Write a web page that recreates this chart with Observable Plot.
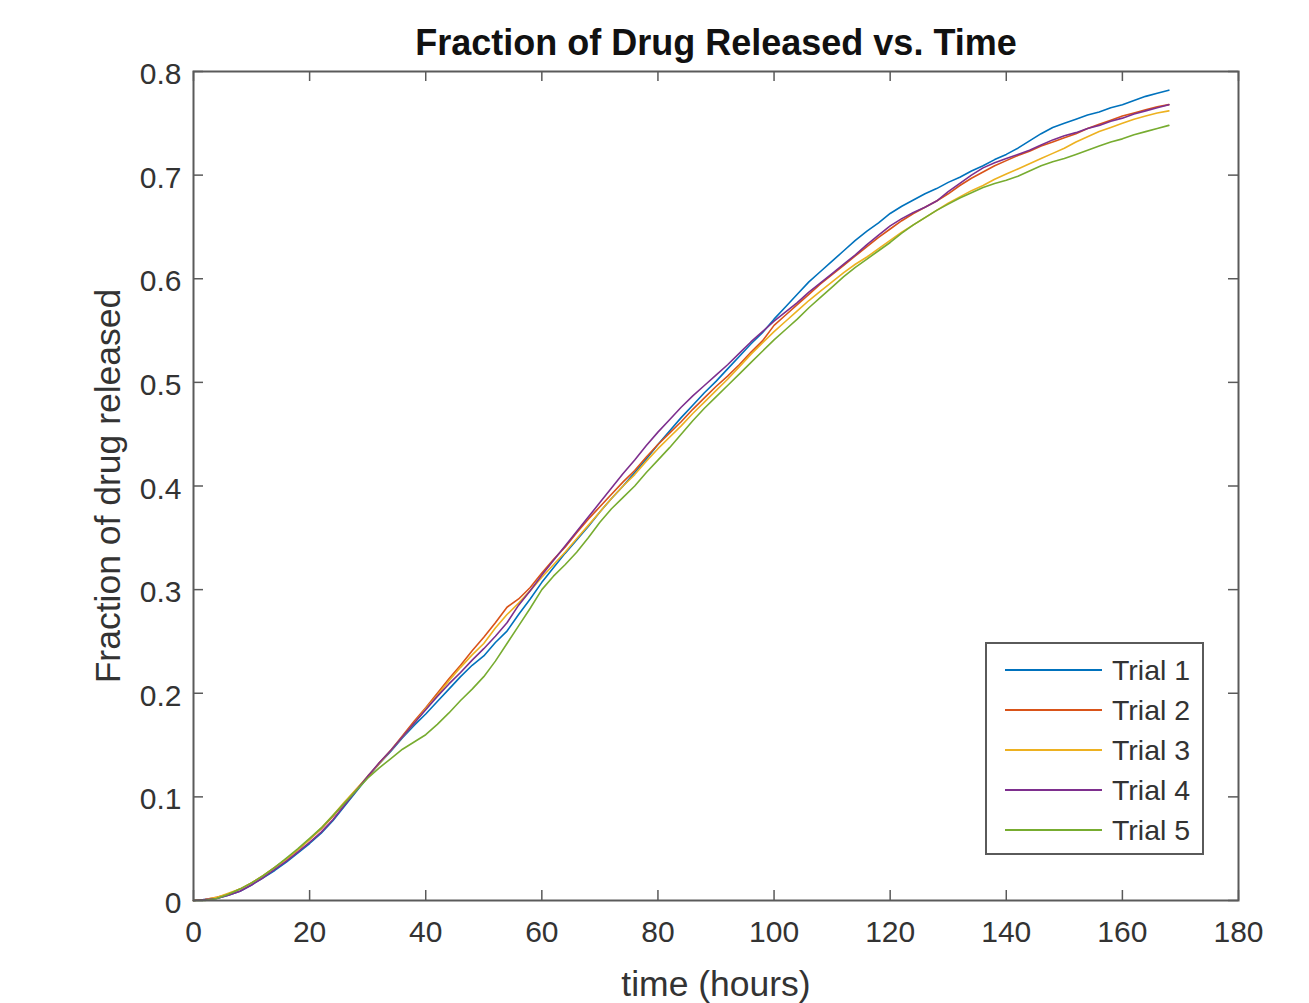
<!DOCTYPE html>
<html>
<head>
<meta charset="utf-8">
<script src="https://cdn.jsdelivr.net/npm/d3@7"></script>
<script src="https://cdn.jsdelivr.net/npm/@observablehq/plot@0.6"></script>
<style>
  html, body { margin: 0; padding: 0; background: #fff; }
  #wrap { position: relative; width: 1309px; height: 1003px; }
  #legend { position: absolute; left: 985px; top: 642px; }
</style>
</head>
<body>
<div id="wrap"><div id="chart"></div><div id="legend"></div></div>
<script>
const trials = ["Trial 1", "Trial 2", "Trial 3", "Trial 4", "Trial 5"];
const colors = ["#0072BD", "#D95319", "#EDB120", "#7E2F8E", "#77AC30"];
const xTicks = [0, 20, 40, 60, 80, 100, 120, 140, 160, 180];
const yTicks = [0, 0.1, 0.2, 0.3, 0.4, 0.5, 0.6, 0.7, 0.8];
const titleText = "Fraction of Drug Released vs. Time";
const xLabel = "time (hours)";
const yLabel = "Fraction of drug released";

const hours = [0,2,4,6,8,10,12,14,16,18,20,22,24,26,28,30,32,34,36,38,40,42,44,46,48,50,52,54,56,58,60,62,64,66,68,70,72,74,76,78,80,82,84,86,88,90,92,94,96,98,100,102,104,106,108,110,112,114,116,118,120,122,124,126,128,130,132,134,136,138,140,142,144,146,148,150,152,154,156,158,160,162,164,166,168];

const trial1 = [0.000,0.001,0.002,0.005,0.009,0.015,0.022,0.029,0.037,0.046,0.055,0.065,0.077,0.091,0.105,0.119,0.132,0.144,0.157,0.169,0.180,0.192,0.204,0.216,0.227,0.236,0.249,0.260,0.276,0.291,0.307,0.321,0.335,0.348,0.361,0.375,0.388,0.400,0.413,0.426,0.440,0.453,0.466,0.478,0.490,0.501,0.513,0.525,0.537,0.548,0.561,0.573,0.585,0.597,0.607,0.617,0.627,0.637,0.646,0.654,0.663,0.670,0.676,0.682,0.687,0.693,0.698,0.704,0.709,0.715,0.720,0.726,0.733,0.740,0.746,0.750,0.754,0.758,0.761,0.765,0.768,0.772,0.776,0.779,0.782];
const trial2 = [0.000,0.001,0.003,0.006,0.011,0.017,0.024,0.032,0.040,0.049,0.059,0.069,0.081,0.094,0.107,0.119,0.133,0.145,0.159,0.173,0.186,0.200,0.214,0.227,0.241,0.254,0.268,0.283,0.291,0.302,0.316,0.329,0.341,0.355,0.368,0.380,0.392,0.404,0.415,0.428,0.440,0.451,0.462,0.474,0.485,0.496,0.506,0.517,0.529,0.540,0.555,0.565,0.575,0.585,0.595,0.604,0.613,0.622,0.631,0.640,0.648,0.656,0.663,0.669,0.675,0.682,0.690,0.697,0.703,0.709,0.714,0.719,0.723,0.728,0.732,0.736,0.740,0.745,0.749,0.753,0.757,0.760,0.763,0.766,0.768];
const trial3 = [0.000,0.001,0.003,0.007,0.011,0.017,0.024,0.032,0.040,0.049,0.059,0.070,0.082,0.095,0.107,0.120,0.132,0.145,0.158,0.171,0.185,0.198,0.212,0.225,0.237,0.248,0.263,0.276,0.287,0.299,0.312,0.324,0.336,0.349,0.362,0.375,0.388,0.400,0.411,0.424,0.436,0.447,0.458,0.470,0.481,0.492,0.503,0.515,0.527,0.538,0.549,0.559,0.569,0.579,0.588,0.597,0.606,0.614,0.621,0.629,0.637,0.645,0.652,0.659,0.666,0.673,0.679,0.685,0.690,0.696,0.701,0.706,0.711,0.716,0.721,0.726,0.732,0.737,0.742,0.746,0.750,0.754,0.757,0.760,0.762];
const trial4 = [0.000,0.001,0.002,0.005,0.009,0.015,0.022,0.030,0.038,0.047,0.056,0.066,0.078,0.092,0.106,0.120,0.133,0.145,0.158,0.171,0.184,0.197,0.209,0.220,0.232,0.243,0.255,0.268,0.285,0.299,0.314,0.328,0.342,0.356,0.370,0.384,0.398,0.412,0.425,0.439,0.452,0.464,0.476,0.487,0.497,0.507,0.517,0.528,0.539,0.549,0.559,0.568,0.577,0.587,0.596,0.605,0.614,0.623,0.633,0.642,0.651,0.658,0.664,0.669,0.675,0.684,0.692,0.700,0.707,0.712,0.716,0.720,0.724,0.729,0.734,0.738,0.741,0.745,0.748,0.752,0.755,0.759,0.762,0.765,0.768];
const trial5 = [0.000,0.000,0.002,0.006,0.011,0.017,0.024,0.032,0.041,0.050,0.060,0.070,0.082,0.094,0.106,0.118,0.128,0.137,0.146,0.153,0.160,0.170,0.181,0.193,0.204,0.216,0.231,0.248,0.265,0.282,0.300,0.313,0.324,0.336,0.350,0.365,0.378,0.389,0.400,0.413,0.425,0.437,0.450,0.463,0.475,0.486,0.497,0.508,0.519,0.530,0.541,0.551,0.561,0.572,0.582,0.592,0.602,0.611,0.619,0.627,0.635,0.644,0.652,0.659,0.666,0.672,0.678,0.683,0.688,0.692,0.695,0.699,0.704,0.709,0.713,0.716,0.720,0.724,0.728,0.732,0.735,0.739,0.742,0.745,0.748];

const series = [trial1, trial2, trial3, trial4, trial5];
const data = [];
series.forEach((vals, k) => vals.forEach((v, i) => data.push({t: hours[i], v, trial: trials[k]})));

const W = 1309, H = 1003;
const mL = 193, mR = 71, mT = 71, mB = 103;
const innerW = W - mL - mR, innerH = H - mT - mB;
const tickLen = 10;
const axisColor = "#5a5a5a";
const textColor = "#333";
const fontFam = "'Liberation Sans', Arial, Helvetica, sans-serif";

const plot = Plot.plot({
  width: W, height: H,
  marginLeft: mL, marginRight: mR, marginTop: mT, marginBottom: mB,
  style: {fontFamily: fontFam, color: textColor, background: "#fff"},
  x: {domain: [0, 180]},
  y: {domain: [0, 0.8]},
  color: {domain: trials, range: colors},
  marks: [
    Plot.line(data, {x: "t", y: "v", z: "trial", stroke: "trial", strokeWidth: 1.6}),
    Plot.ruleX(xTicks, {x: d => d, insetTop: innerH - tickLen, stroke: axisColor, strokeWidth: 1.5}),
    Plot.ruleX(xTicks, {x: d => d, insetBottom: innerH - tickLen, stroke: axisColor, strokeWidth: 1.5}),
    Plot.ruleY(yTicks, {y: d => d, insetRight: innerW - tickLen, stroke: axisColor, strokeWidth: 1.5}),
    Plot.ruleY(yTicks, {y: d => d, insetLeft: innerW - tickLen, stroke: axisColor, strokeWidth: 1.5}),
    Plot.frame({stroke: axisColor, strokeWidth: 2}),
    Plot.axisX({ticks: xTicks, tickSize: 0, tickPadding: 20, fontSize: 30, label: null, tickFormat: d => String(d)}),
    Plot.axisY({ticks: yTicks, tickSize: 0, tickPadding: 12, dy: 3, fontSize: 30, label: null, tickFormat: d => d === 0 ? "0" : d.toFixed(1)}),
    Plot.text([xLabel], {text: d => d, frameAnchor: "bottom", lineAnchor: "middle", dy: 84, fontSize: 35.5, fill: textColor}),
    Plot.text([yLabel], {text: d => d, frameAnchor: "left", textAnchor: "middle", lineAnchor: "middle", dx: -85, rotate: -90, fontSize: 35.5, fill: textColor}),
    Plot.text([titleText], {text: d => d, frameAnchor: "top", lineAnchor: "middle", dy: -28, fontSize: 36, fontWeight: "bold", fill: "#111"})
  ]
});
document.getElementById("chart").appendChild(plot);

// Legend
const lw = 219, lh = 213;
const lsvg = d3.select("#legend").append("svg").attr("width", lw).attr("height", lh)
  .style("font-family", fontFam);
lsvg.append("rect").attr("x", 1).attr("y", 1).attr("width", lw - 2).attr("height", lh - 2)
  .attr("fill", "#fff").attr("stroke", axisColor).attr("stroke-width", 2);
trials.forEach((name, i) => {
  const cy = 28 + i * 40;
  lsvg.append("line").attr("x1", 20).attr("x2", 117).attr("y1", cy).attr("y2", cy)
    .attr("stroke", colors[i]).attr("stroke-width", 2);
  lsvg.append("text").attr("x", 127).attr("y", cy).attr("dy", "0.35em")
    .attr("font-size", 28.5).attr("fill", textColor).text(name);
});
</script>
</body>
</html>
